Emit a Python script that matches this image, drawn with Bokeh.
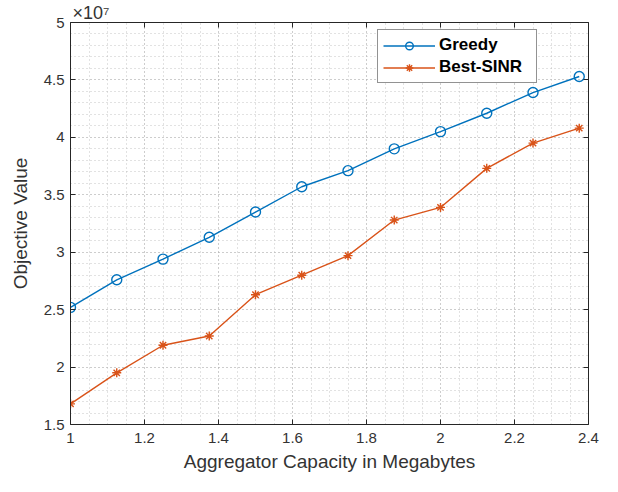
from bokeh.plotting import figure
from bokeh.models import Range1d, FixedTicker, CustomJSTickFormatter, LinearAxis
from bokeh.embed import file_html
from bokeh.resources import INLINE

# data (objective values in units of 1e7)
capacity = [1.0, 1.125, 1.25, 1.375, 1.5, 1.625, 1.75, 1.875, 2.0, 2.125, 2.25, 2.375]
greedy = [2.52, 2.76, 2.94, 3.13, 3.35, 3.57, 3.71, 3.90, 4.05, 4.21, 4.39, 4.53]
best_sinr = [1.68, 1.95, 2.19, 2.27, 2.63, 2.80, 2.97, 3.28, 3.39, 3.73, 3.95, 4.08]
series_names = ["Greedy", "Best-SINR"]
x_ticks = [1.0, 1.2, 1.4, 1.6, 1.8, 2.0, 2.2, 2.4]
y_ticks = [1.5, 2.0, 2.5, 3.0, 3.5, 4.0, 4.5, 5.0]
x_label = "Aggregator Capacity in Megabytes"
y_label = "Objective Value"
exponent_text = "\u00d710\u2077"

x_minor = [round(1.0 + 0.05 * i, 3) for i in range(29)]
y_minor = [round(1.5 + 0.1 * i, 3) for i in range(36)]

BLUE = "#0072BD"
ORANGE = "#D95319"
AX = "#262626"
TXT = "#333333"
FONT = "Liberation Sans"

p = figure(width=602, height=476, output_backend="svg", toolbar_location=None,
           x_range=Range1d(1, 2.4), y_range=Range1d(1.5, 5),
           min_border_left=70, min_border_right=14, min_border_top=22, min_border_bottom=52)
p.outline_line_color = None
p.background_fill_color = "white"
p.border_fill_color = "white"

p.title.text = exponent_text
p.title.align = "left"
p.title.offset = 2
p.title.text_font = FONT
p.title.text_font_size = "18px"
p.title.text_font_style = "normal"
p.title.text_color = TXT
p.title.standoff = 0

fmt = CustomJSTickFormatter(code="return String(Number(tick.toFixed(3)));")
xt = FixedTicker(ticks=x_ticks, minor_ticks=x_minor)
yt = FixedTicker(ticks=y_ticks, minor_ticks=y_minor)

p.xaxis.ticker = xt
p.yaxis.ticker = yt
p.xgrid.ticker = xt
p.ygrid.ticker = yt
p.xaxis.formatter = fmt
p.yaxis.formatter = fmt

for ax in (p.xaxis[0], p.yaxis[0]):
    ax.axis_line_color = AX
    ax.major_tick_in = 5
    ax.major_tick_out = 0
    ax.minor_tick_in = 0
    ax.minor_tick_out = 0
    ax.major_tick_line_color = AX
    ax.major_label_text_font = FONT
    ax.major_label_text_font_size = "15px"
    ax.major_label_text_color = TXT
    ax.axis_label_text_font = FONT
    ax.axis_label_text_font_size = "19px"
    ax.axis_label_text_font_style = "normal"
    ax.axis_label_text_color = TXT
p.xaxis.axis_label = x_label
p.yaxis.axis_label = y_label
p.xaxis.major_label_standoff = 8
p.yaxis.major_label_standoff = 6
p.xaxis.axis_label_standoff = 5
p.yaxis.axis_label_standoff = 10

# box axes (ticks only)
top = LinearAxis(ticker=xt, formatter=fmt, major_label_text_color=None, major_tick_in=5, major_tick_out=0,
                 minor_tick_in=0, minor_tick_out=0, axis_line_color=AX, major_tick_line_color=AX,
                 major_label_standoff=0)
right = LinearAxis(ticker=yt, formatter=fmt, major_label_text_color=None, major_tick_in=5, major_tick_out=0,
                   minor_tick_in=0, minor_tick_out=0, axis_line_color=AX, major_tick_line_color=AX,
                   major_label_standoff=0)
p.add_layout(top, "above")
p.add_layout(right, "right")

# grid
for g in (p.xgrid[0], p.ygrid[0]):
    g.grid_line_color = "#b0b0b0"
    g.grid_line_dash = "1 3"
    g.grid_line_alpha = 0.8
    g.minor_grid_line_color = "#b8b8b8"
    g.minor_grid_line_dash = "1 3"
    g.minor_grid_line_alpha = 0.8

p.line(capacity, greedy, color=BLUE, line_width=1.4, legend_label=series_names[0])
p.scatter(capacity, greedy, marker="circle", size=10, fill_color=None, line_color=BLUE,
          line_width=1.4, legend_label=series_names[0])
p.line(capacity, best_sinr, color=ORANGE, line_width=1.4, legend_label=series_names[1])
p.scatter(capacity, best_sinr, marker="asterisk", size=9, line_color=ORANGE,
          line_width=1.4, legend_label=series_names[1])

lg = p.legend[0]
lg.location = (307, 341)
lg.label_text_font = FONT
lg.label_text_font_style = "bold"
lg.label_text_font_size = "17px"
lg.label_text_color = "black"
lg.border_line_color = AX
lg.border_line_width = 1
lg.padding = 5
lg.spacing = 2
lg.margin = 0
lg.glyph_width = 52
lg.glyph_height = 19
lg.label_height = 19
lg.label_width = 92
lg.label_standoff = 4
lg.background_fill_alpha = 1

open("out.html", "w").write(file_html(p, INLINE))
